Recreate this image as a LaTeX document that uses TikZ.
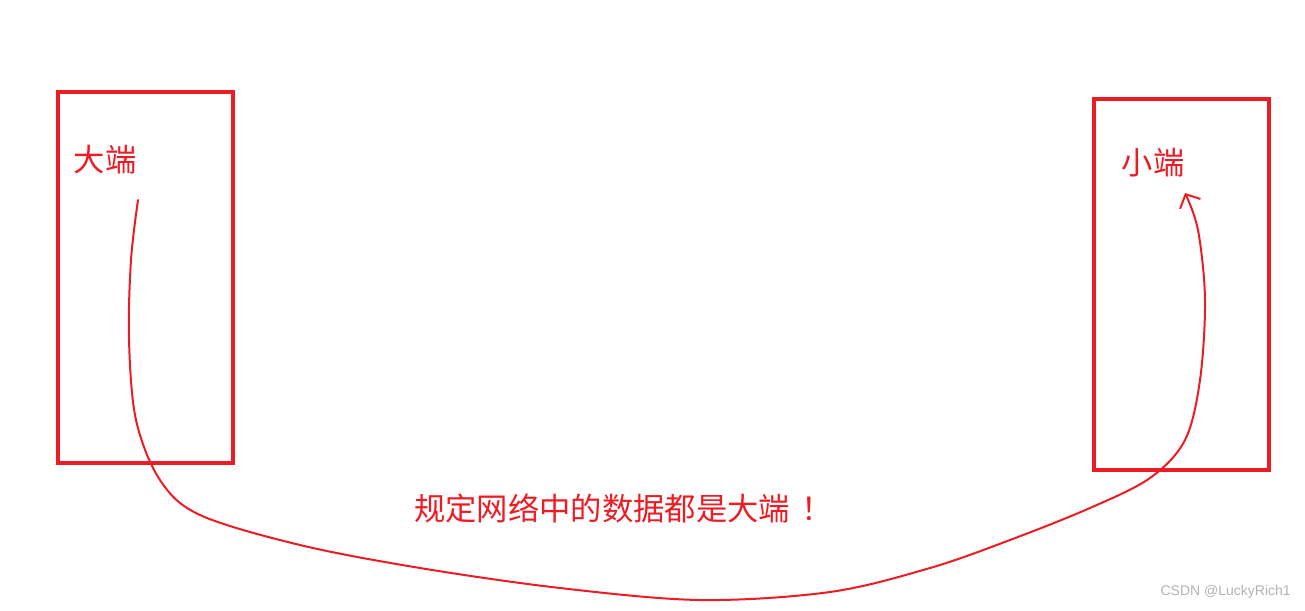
\documentclass[tikz,border=0pt]{standalone}
\usepackage{fontspec}
\newfontfamily\cjk{Noto Sans CJK SC}
\setsansfont{Liberation Sans}
\usetikzlibrary{arrows.meta}
\definecolor{pen}{RGB}{237,28,36}
\tikzset{
  box/.style={draw=pen, line width=3pt, minimum width=131.25pt, minimum height=278.25pt, anchor=north west, inner sep=0pt},
  lbl/.style={text=pen, font=\cjk\fontsize{23.5}{26}\selectfont, inner sep=0pt},
  stroke/.style={draw=pen, line width=1.5pt, line cap=round, line join=round},
}
\begin{document}
\begin{tikzpicture}[x=0.75pt,y=-0.75pt]
\useasboundingbox (0,0) rectangle (1305,610);
\node[box] (big) at (56,90) {};
\node[box] (small) at (1092,97) {};
\node[lbl] (bigl) at (105,160) {大端};
\node[lbl] (smalll) at (1153,163) {小端};
\node[lbl, anchor=west] (rule) at (414,508) {规定网络中的数据都是大端\hspace{0.35em}！};
\node[text=black!30, font=\sffamily\fontsize{10.5}{12}\selectfont, anchor=east, inner sep=0pt] (wm) at (1291,592) {CSDN @LuckyRich1};
\coordinate (s) at (138,200);
\coordinate (e) at (1185,193);
\draw[stroke, -{Straight Barb[length=8pt, width=17pt, line width=1.5pt]}] plot[smooth, tension=0.55] coordinates {
 (s) (131,260) (129,340) (136,420) (160,480) (200,515) (300,545) (420,568) (560,588) (700,600) (830,592) (930,568) (1010,540) (1090,508) (1150,478) (1185,440) (1200,380) (1205,300) (1198,230) (e)};
\end{tikzpicture}
\end{document}
